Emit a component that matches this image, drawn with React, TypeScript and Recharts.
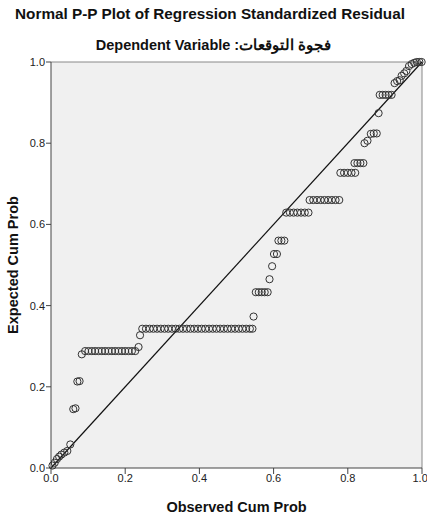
import React from 'react';
import { ScatterChart, Scatter, XAxis, YAxis, CartesianGrid, ReferenceLine, Label } from 'recharts';

const chartTitle = 'Normal P-P Plot of Regression Standardized Residual';
const chartSubtitle = 'Dependent Variable :فجوة التوقعات';
const xAxisTitle = 'Observed Cum Prob';
const yAxisTitle = 'Expected Cum Prob';
const axisTicks = [0, 0.2, 0.4, 0.6, 0.8, 1];

// observed vs expected cumulative probability
const observedCumProb = [
  0.004, 0.010, 0.016, 0.022, 0.028, 0.036, 0.044, 0.052,
  0.060, 0.066, 0.071, 0.077, 0.083,
  0.092, 0.101, 0.110, 0.119, 0.128, 0.137, 0.146, 0.155, 0.164, 0.173, 0.182, 0.191, 0.200, 0.209, 0.218, 0.227,
  0.236, 0.240,
  0.246, 0.256, 0.266, 0.276, 0.286, 0.296, 0.306, 0.316, 0.326, 0.336, 0.346, 0.356, 0.366, 0.376, 0.386,
  0.396, 0.406, 0.416, 0.426, 0.436, 0.446, 0.456, 0.466, 0.476, 0.486, 0.496, 0.506, 0.516, 0.526, 0.536, 0.543,
  0.546,
  0.552, 0.560, 0.568, 0.576, 0.584,
  0.589, 0.596, 0.601, 0.609, 0.613, 0.621, 0.629,
  0.634, 0.644, 0.654, 0.664, 0.674, 0.684, 0.694,
  0.697, 0.707, 0.717, 0.727, 0.737, 0.747, 0.757, 0.767, 0.777,
  0.780, 0.790, 0.800, 0.810, 0.820,
  0.818, 0.826, 0.834, 0.842,
  0.845, 0.853, 0.862, 0.870, 0.878,
  0.883,
  0.886, 0.894, 0.902, 0.910, 0.918,
  0.926, 0.933, 0.940,
  0.945, 0.952, 0.958,
  0.965, 0.972, 0.979, 0.986, 0.993, 0.999,
];

const expectedCumProb = [
  0.006, 0.013, 0.022, 0.028, 0.033, 0.038, 0.042, 0.058,
  0.145, 0.147, 0.213, 0.214, 0.280,
  0.288, 0.288, 0.288, 0.288, 0.288, 0.288, 0.288, 0.288, 0.288, 0.288, 0.288, 0.288, 0.288, 0.288, 0.288, 0.288,
  0.298, 0.327,
  0.343, 0.343, 0.343, 0.343, 0.343, 0.343, 0.343, 0.343, 0.343, 0.343, 0.343, 0.343, 0.343, 0.343, 0.343,
  0.343, 0.343, 0.343, 0.343, 0.343, 0.343, 0.343, 0.343, 0.343, 0.343, 0.343, 0.343, 0.343, 0.343, 0.343, 0.343,
  0.373,
  0.433, 0.433, 0.433, 0.433, 0.433,
  0.465, 0.497, 0.527, 0.527, 0.560, 0.560, 0.560,
  0.629, 0.629, 0.629, 0.629, 0.629, 0.629, 0.629,
  0.660, 0.660, 0.660, 0.660, 0.660, 0.660, 0.660, 0.660, 0.660,
  0.727, 0.727, 0.727, 0.727, 0.727,
  0.751, 0.751, 0.751, 0.751,
  0.800, 0.806, 0.823, 0.824, 0.824,
  0.874,
  0.919, 0.919, 0.919, 0.919, 0.919,
  0.948, 0.953, 0.955,
  0.966, 0.972, 0.978,
  0.990, 0.995, 0.998, 1.0, 1.0, 1.0,
];

const points = observedCumProb.map((x, i) => ({ x, y: expectedCumProb[i] }));

const font = '"Liberation Sans", Arial, sans-serif';
const tickStyle = { fontSize: 11, fill: '#222', fontFamily: font };
const axisTitleStyle = { fontSize: 14.5, fontWeight: 'bold', fill: '#111', fontFamily: font };

const HollowDot = (props: any) => (
  <circle cx={props.cx} cy={props.cy} r={3.6} fill="none" stroke="#333" strokeWidth={1} />
);

const App: React.FC = () => {
  return (
    <div style={{ position: 'absolute', left: 0, top: 0, width: 427, height: 520, background: '#fff', fontFamily: font }}>
      <div style={{ position: 'absolute', top: 5, left: 0, width: 420, textAlign: 'center', fontSize: 15.3, fontWeight: 'bold', color: '#111', whiteSpace: 'nowrap' }}>
        {chartTitle}
      </div>
      <div style={{ position: 'absolute', top: 37, left: 0, width: 427, textAlign: 'center', fontSize: 14.5, fontWeight: 'bold', color: '#111' }}>
        {chartSubtitle}
      </div>
      <div style={{ position: 'absolute', left: 0, top: 0 }}>
        <ScatterChart width={427} height={520} margin={{ top: 62, right: 5, bottom: 0, left: 0 }}>
          <CartesianGrid fill="#f0f0f0" horizontal={false} vertical={false} />
          <XAxis
            type="number"
            dataKey="x"
            domain={[0, 1]}
            ticks={axisTicks}
            tickFormatter={(v: number) => v.toFixed(1)}
            height={52}
            stroke="#444"
            tickSize={6}
            tickMargin={0}
            tick={tickStyle}
          >
            <Label value={xAxisTitle} position="insideBottom" offset={8} style={axisTitleStyle} />
          </XAxis>
          <YAxis
            type="number"
            dataKey="y"
            domain={[0, 1]}
            ticks={axisTicks}
            tickFormatter={(v: number) => v.toFixed(1)}
            width={51}
            stroke="#444"
            tickSize={5}
            tickMargin={1}
            tick={tickStyle}
          >
            <Label value={yAxisTitle} angle={-90} position="insideLeft" offset={13}
              style={{ ...axisTitleStyle, textAnchor: 'middle' }} />
          </YAxis>
          <ReferenceLine y={1} stroke="#888" />
          <ReferenceLine x={1} stroke="#888" />
          <ReferenceLine segment={[{ x: 0, y: 0 }, { x: 1, y: 1 }]} stroke="#111" strokeWidth={1.2} />
          <Scatter data={points} shape={HollowDot} isAnimationActive={false} />
        </ScatterChart>
      </div>
    </div>
  );
};

export default App;
